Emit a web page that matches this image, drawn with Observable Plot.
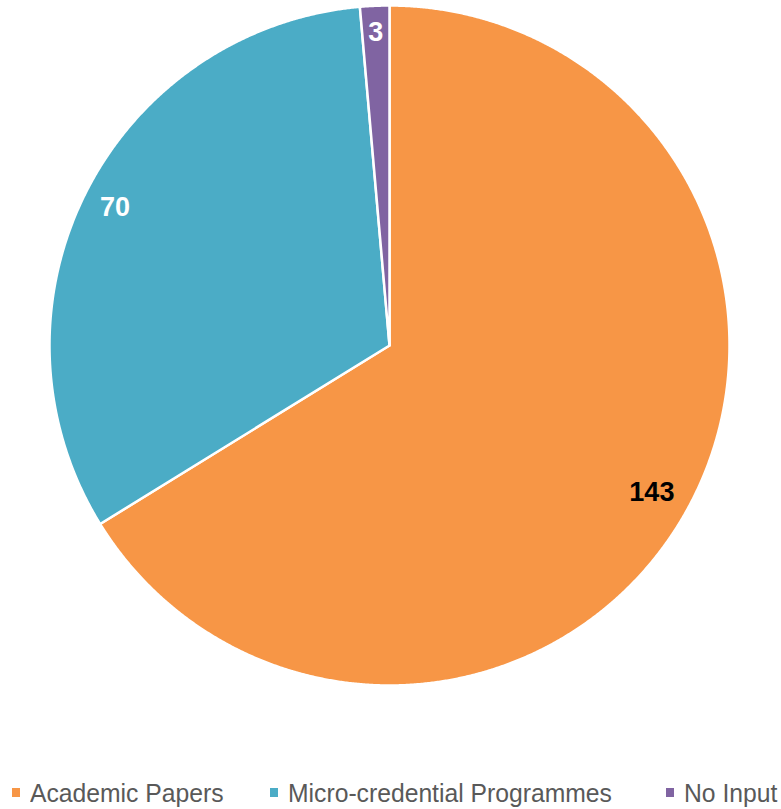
<!DOCTYPE html>
<html><head><meta charset="utf-8">
<script src="https://cdn.jsdelivr.net/npm/d3@7"></script>
<script src="https://cdn.jsdelivr.net/npm/@observablehq/plot@0.6"></script>
<style>
body{margin:0;background:#fff;position:relative;width:781px;height:809px;overflow:hidden;}
#legend{position:absolute;left:0;top:0;width:781px;height:809px;pointer-events:none;font-family:"Liberation Sans",Arial,sans-serif;font-size:26px;color:#595959;line-height:30px;}
#legend .sw{position:absolute;width:8px;height:9px;top:788px;}
#legend .tx{position:absolute;top:778px;white-space:nowrap;transform:scaleX(0.95);transform-origin:0 50%;}
</style>
</head><body><div id="chart"></div><div id="legend"></div>
<script>
const categories = ["Academic Papers", "Micro-credential Programmes", "No Input"];
const values = [143, 70, 3];
const colors = ["#F79646", "#4BACC6", "#8064A2"];
const labelColors = ["#000000", "#ffffff", "#ffffff"];

const W = 781, H = 700, mL = 49, mR = 52, mT = 5, mB = 15;
const pxPerUnit = (W - mL - mR) / 2;
const fontSize = 27;

const slices = d3.pie().sort(null).value(d => d.value)(
  categories.map((c, i) => ({category: c, value: values[i], labelColor: labelColors[i]}))
);

const outline = [];
slices.forEach(s => {
  const n = Math.max(2, Math.ceil((s.endAngle - s.startAngle) / 0.004));
  outline.push({category: s.data.category, x: 0, y: 0});
  for (let k = 0; k <= n; k++) {
    const a = s.startAngle + (s.endAngle - s.startAngle) * k / n;
    outline.push({category: s.data.category, x: Math.sin(a), y: Math.cos(a)});
  }
  outline.push({category: s.data.category, x: 0, y: 0});
});

// "inside end" label placement: the text box's outer corner sits a small padding inside the rim
const pad = 14 / pxPerUnit;
const labels = slices.map(s => {
  const m = (s.startAngle + s.endAngle) / 2;
  const ux = Math.sin(m), uy = Math.cos(m);
  const text = String(s.data.value);
  const hw = text.length * 0.556 * fontSize / 2 / pxPerUnit;
  const hh = 12 / pxPerUnit;
  const cx = Math.sign(ux) * hw, cy = Math.sign(uy) * hh;
  const uc = ux * cx + uy * cy;
  const T = 1 - pad;
  const d = -uc + Math.sqrt(uc * uc - (cx * cx + cy * cy) + T * T);
  return {text, x: d * ux, y: d * uy, color: s.data.labelColor};
});

const chart = Plot.plot({
  width: W, height: H,
  marginLeft: mL, marginRight: mR, marginTop: mT, marginBottom: mB,
  x: {domain: [-1, 1], axis: null},
  y: {domain: [-1, 1], axis: null},
  color: {domain: categories, range: colors},
  style: {background: "white"},
  marks: [
    Plot.line(outline, {x: "x", y: "y", z: "category", fill: "category", stroke: "white", strokeWidth: 2.5, strokeLinejoin: "round"}),
    Plot.text(labels.filter(d => d.color === "#000000"), {x: "x", y: "y", text: "text", fill: "#000000", fontSize, fontWeight: "bold", fontFamily: "Liberation Sans, Arial, sans-serif"}),
    Plot.text(labels.filter(d => d.color !== "#000000"), {x: "x", y: "y", text: "text", fill: "#ffffff", fontSize, fontWeight: "bold", fontFamily: "Liberation Sans, Arial, sans-serif"})
  ]
});
document.getElementById("chart").appendChild(chart);

const legendX = [12, 270, 666];
const legend = document.getElementById("legend");
categories.forEach((c, i) => {
  const sw = document.createElement("span");
  sw.className = "sw";
  sw.style.background = colors[i];
  sw.style.left = legendX[i] + "px";
  const t = document.createElement("span");
  t.className = "tx";
  t.textContent = c;
  t.style.left = (legendX[i] + 18) + "px";
  legend.appendChild(sw); legend.appendChild(t);
});
</script>
</body></html>
